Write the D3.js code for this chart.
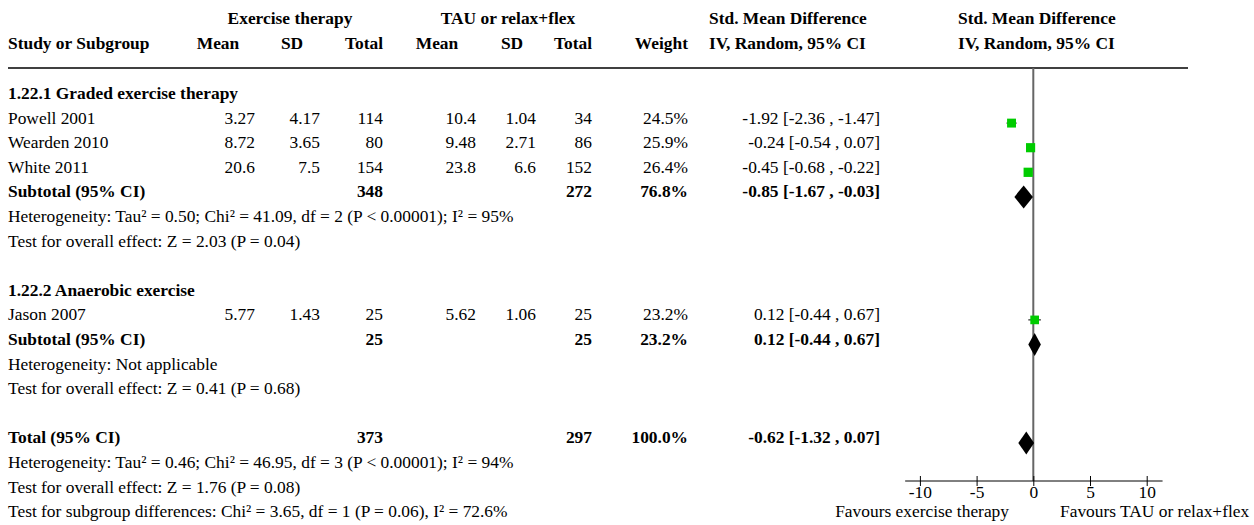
<!DOCTYPE html>
<html>
<head>
<meta charset="utf-8">
<script src="https://cdn.jsdelivr.net/npm/d3@7"></script>
<style>
  html, body { margin: 0; padding: 0; background: #fff; }
  svg { display: block; }
  text { font-family: "Liberation Serif", "Times New Roman", serif; font-size: 17.4px; fill: #000; }
  .b { font-weight: bold; }
</style>
</head>
<body>
<svg id="chart" width="1254" height="525"></svg>
<script>
// Study-level data
const studies   = ["Powell 2001", "Wearden 2010", "White 2011", "Jason 2007"];
const expMean   = [3.27, 8.72, 20.6, 5.77];
const expSD     = [4.17, 3.65, 7.5, 1.43];
const expN      = [114, 80, 154, 25];
const ctlMean   = [10.4, 9.48, 23.8, 5.62];
const ctlSD     = [1.04, 2.71, 6.6, 1.06];
const ctlN      = [34, 86, 152, 25];
const weights   = [24.5, 25.9, 26.4, 23.2];
const smd       = [-1.92, -0.24, -0.45, 0.12];
const smdLo     = [-2.36, -0.54, -0.68, -0.44];
const smdHi     = [-1.47, 0.07, -0.22, 0.67];

// Pooled estimates: subgroup 1.22.1, subgroup 1.22.2, overall
const poolLabel = ["Subtotal (95% CI)", "Subtotal (95% CI)", "Total (95% CI)"];
const poolExpN  = [348, 25, 373];
const poolCtlN  = [272, 25, 297];
const poolW     = [76.8, 23.2, 100.0];
const poolEst   = [-0.85, 0.12, -0.62];
const poolLo    = [-1.67, -0.44, -1.32];
const poolHi    = [-0.03, 0.67, 0.07];

const groupTitles = ["1.22.1 Graded exercise therapy", "1.22.2 Anaerobic exercise"];
const groupNotes = [
  ["Heterogeneity: Tau\u00b2 = 0.50; Chi\u00b2 = 41.09, df = 2 (P < 0.00001); I\u00b2 = 95%",
   "Test for overall effect: Z = 2.03 (P = 0.04)"],
  ["Heterogeneity: Not applicable",
   "Test for overall effect: Z = 0.41 (P = 0.68)"]
];
const totalNotes = [
  "Heterogeneity: Tau\u00b2 = 0.46; Chi\u00b2 = 46.95, df = 3 (P < 0.00001); I\u00b2 = 94%",
  "Test for overall effect: Z = 1.76 (P = 0.08)",
  "Test for subgroup differences: Chi\u00b2 = 3.65, df = 1 (P = 0.06), I\u00b2 = 72.6%"
];

const axisTicks = [-10, -5, 0, 5, 10];
const favourLeft = "Favours exercise therapy";
const favourRight = "Favours TAU or relax+flex";

// Layout
const svg = d3.select("#chart");
const x = d3.scaleLinear().domain([-10, 10]).range([919.9, 1146.7]);
const row = d3.scaleLinear().domain([0, 17]).range([99, 517.2]); // text baselines
const axisY = 481;
const headerLineY = 68;

// Table column right edges
const col = { expMean: 255, expSD: 320, expN: 383, ctlMean: 476, ctlSD: 536, ctlN: 592, w: 688, ci: 880 };

function txt(xp, yp, s, anchor, bold) {
  return svg.append("text").attr("x", xp).attr("y", yp)
    .attr("text-anchor", anchor || "start")
    .attr("class", bold ? "b" : null)
    .text(s);
}
const fmtCI = (e, l, h) => `${e.toFixed(2)} [${l.toFixed(2)} , ${h.toFixed(2)}]`;

// Column headers
txt(290, 24, "Exercise therapy", "middle", true);
txt(508, 24, "TAU or relax+flex", "middle", true);
txt(709, 24, "Std. Mean Difference", "start", true);
txt(958, 24, "Std. Mean Difference", "start", true);
txt(8, 49, "Study or Subgroup", "start", true);
txt(218, 49, "Mean", "middle", true);
txt(292, 49, "SD", "middle", true);
txt(383, 49, "Total", "end", true);
txt(437, 49, "Mean", "middle", true);
txt(512, 49, "SD", "middle", true);
txt(592, 49, "Total", "end", true);
txt(688, 49, "Weight", "end", true);
txt(709, 49, "IV, Random, 95% CI", "start", true);
txt(958, 49, "IV, Random, 95% CI", "start", true);

svg.append("line").attr("x1", 8).attr("x2", 1188).attr("y1", headerLineY).attr("y2", headerLineY)
  .attr("stroke", "#000").attr("stroke-width", 1.5);

// Line of no effect
svg.append("line").attr("x1", x(0)).attr("x2", x(0)).attr("y1", headerLineY).attr("y2", axisY)
  .attr("stroke", "#666").attr("stroke-width", 2);

// Row positions per group
const groupStart = [0, 8];
const studyRows = [1, 2, 3, 9];
const poolRows = [4, 10, 14];

groupTitles.forEach((t, g) => {
  txt(8, row(groupStart[g]), t, "start", true);
  groupNotes[g].forEach((n, k) => txt(8, row(poolRows[g] + 1 + k), n));
});
totalNotes.forEach((n, k) => txt(8, row(15 + k), n));

// Study rows: table values and markers
studies.forEach((s, i) => {
  const y = row(studyRows[i]);
  txt(8, y, s);
  txt(col.expMean, y, String(expMean[i]), "end");
  txt(col.expSD, y, String(expSD[i]), "end");
  txt(col.expN, y, String(expN[i]), "end");
  txt(col.ctlMean, y, String(ctlMean[i]), "end");
  txt(col.ctlSD, y, String(ctlSD[i]), "end");
  txt(col.ctlN, y, String(ctlN[i]), "end");
  txt(col.w, y, weights[i].toFixed(1) + "%", "end");
  txt(col.ci, y, fmtCI(smd[i], smdLo[i], smdHi[i]), "end");

  const cy = y - 0.5;
  svg.append("line").attr("x1", x(smdLo[i])).attr("x2", x(smdHi[i]))
    .attr("y1", cy).attr("y2", cy).attr("stroke", "#000").attr("stroke-width", 1);
  const sz = 1.8 * Math.sqrt(weights[i]);
  svg.append("rect").attr("x", x(smd[i]) - sz / 2).attr("y", cy - sz / 2)
    .attr("width", sz).attr("height", sz).attr("fill", "#00cc00");
});

// Pooled rows: totals and diamonds
poolLabel.forEach((lab, p) => {
  const y = row(poolRows[p]);
  txt(8, y, lab, "start", true);
  txt(col.expN, y, String(poolExpN[p]), "end", true);
  txt(col.ctlN, y, String(poolCtlN[p]), "end", true);
  txt(col.w, y, poolW[p].toFixed(1) + "%", "end", true);
  txt(col.ci, y, fmtCI(poolEst[p], poolLo[p], poolHi[p]), "end", true);

  const cy = y - 0.5, h = 11.5;
  const pts = [[x(poolLo[p]), cy], [x(poolEst[p]), cy - h], [x(poolHi[p]), cy], [x(poolEst[p]), cy + h]];
  svg.append("polygon").attr("points", pts.map(d => d.join(",")).join(" ")).attr("fill", "#000");
});

// Effect-size axis
const axisG = svg.append("g").attr("transform", `translate(0,${axisY})`);
axisG.append("line").attr("x1", x(-11.3)).attr("x2", x(11.4)).attr("stroke", "#000").attr("stroke-width", 1);
const ax = d3.axisBottom(x).tickValues(axisTicks).tickSize(5).tickSizeOuter(0).tickPadding(4)
  .tickFormat(d => String(d));
axisG.call(ax);
axisG.select(".domain").remove();
axisG.selectAll(".tick line").attr("y1", -5).attr("y2", 5).attr("stroke", "#000");
axisG.selectAll(".tick text").attr("y", 17).attr("dy", null)
  .style("font-family", "'Liberation Serif', serif").style("font-size", "17.4px").attr("fill", "#000");

txt(1009, 517, favourLeft, "end");
txt(1060, 517, favourRight, "start");
</script>
</body>
</html>
